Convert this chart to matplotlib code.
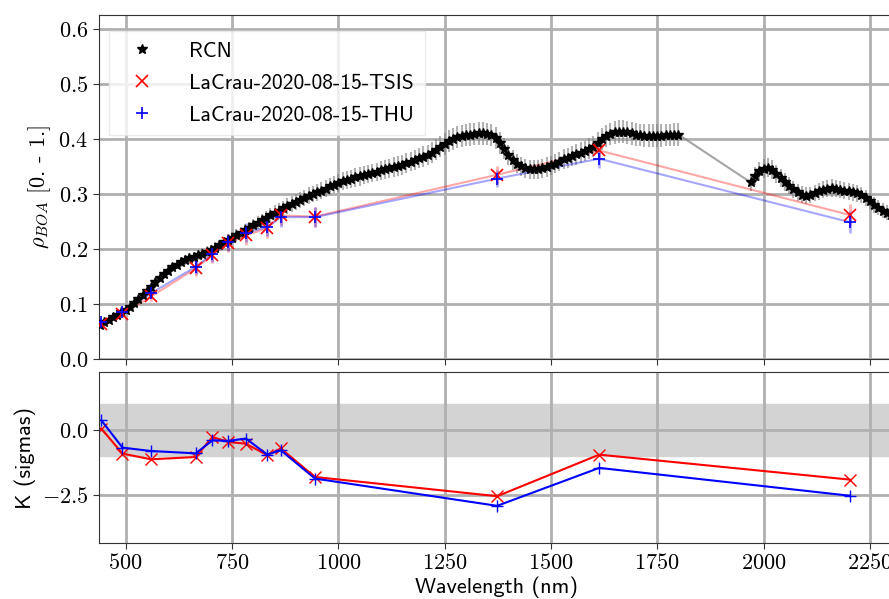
import numpy as np
import matplotlib
matplotlib.use('Agg')
import matplotlib.pyplot as plt
from matplotlib.ticker import MultipleLocator, FuncFormatter

plt.rcParams['mathtext.fontset'] = 'cm'

# Sentinel-2 band centres (nm)
bands = [442.7, 492.4, 559.8, 664.6, 704.1, 740.5, 782.8, 832.8, 864.7,
         945.1, 1373.5, 1613.7, 2202.4]

rho_tsis = [0.064, 0.082, 0.114, 0.165, 0.190, 0.211, 0.225, 0.238, 0.261,
            0.259, 0.335, 0.379, 0.262]
rho_thu = [0.067, 0.085, 0.120, 0.168, 0.191, 0.212, 0.230, 0.240, 0.258,
           0.258, 0.328, 0.364, 0.249]
unc_tsis = [0.006, 0.007, 0.009, 0.014, 0.015, 0.016, 0.017, 0.017, 0.018,
            0.018, 0.016, 0.017, 0.020]
unc_thu = [0.006, 0.007, 0.009, 0.014, 0.015, 0.016, 0.017, 0.017, 0.018,
           0.018, 0.016, 0.017, 0.020]

k_tsis = [0.05, -0.91, -1.13, -1.04, -0.27, -0.46, -0.53, -0.97, -0.71,
          -1.81, -2.55, -0.95, -1.91]
k_thu = [0.37, -0.68, -0.81, -0.90, -0.40, -0.42, -0.33, -0.95, -0.78,
         -1.87, -2.92, -1.46, -2.53]

# RadCalNet spectrum, 10 nm steps, two segments
rcn_wl_1 = np.arange(440, 1801, 10)
rcn_rho_1 = [0.063, 0.067, 0.071, 0.076, 0.080, 0.085, 0.089, 0.095, 0.102, 0.109,
             0.116, 0.124, 0.131, 0.140, 0.148, 0.155, 0.161, 0.167, 0.172, 0.176,
             0.180, 0.183, 0.186, 0.189, 0.192, 0.195, 0.198, 0.202, 0.207, 0.212,
             0.216, 0.220, 0.225, 0.229, 0.234, 0.238, 0.243, 0.248, 0.252, 0.257,
             0.261, 0.266, 0.270, 0.274, 0.278, 0.282, 0.286, 0.289, 0.293, 0.297,
             0.300, 0.303, 0.306, 0.310, 0.314, 0.317, 0.320, 0.323, 0.326, 0.328,
             0.330, 0.332, 0.334, 0.336, 0.338, 0.340, 0.343, 0.345, 0.347, 0.349,
             0.351, 0.353, 0.356, 0.359, 0.362, 0.365, 0.368, 0.371, 0.375, 0.380,
             0.386, 0.391, 0.396, 0.400, 0.403, 0.405, 0.407, 0.408, 0.409, 0.410,
             0.410, 0.409, 0.407, 0.402, 0.393, 0.382, 0.371, 0.362, 0.355, 0.350,
             0.347, 0.345, 0.345, 0.345, 0.347, 0.349, 0.352, 0.355, 0.359, 0.363,
             0.366, 0.369, 0.372, 0.375, 0.378, 0.382, 0.386, 0.393, 0.400, 0.405,
             0.409, 0.412, 0.413, 0.413, 0.412, 0.410, 0.408, 0.407, 0.406, 0.406,
             0.406, 0.406, 0.406, 0.407, 0.407, 0.408, 0.408]
rcn_wl_2 = np.arange(1970, 2301, 10)
rcn_rho_2 = [0.321, 0.333, 0.341, 0.346, 0.348, 0.344, 0.336, 0.329, 0.322, 0.315,
             0.309, 0.303, 0.299, 0.297, 0.298, 0.302, 0.305, 0.308, 0.310, 0.311,
             0.310, 0.308, 0.306, 0.305, 0.303, 0.301, 0.298, 0.293, 0.287, 0.280,
             0.275, 0.270, 0.266, 0.262]
rcn_unc_rel = 0.05

rcn_wl = np.concatenate([rcn_wl_1, rcn_wl_2])
rcn_rho = np.array(rcn_rho_1 + rcn_rho_2)

fig = plt.figure(figsize=(8.89, 5.99), dpi=100)
ax1 = fig.add_axes([0.1108, 0.4002, 0.8963, 0.5748])
ax2 = fig.add_axes([0.1108, 0.0935, 0.8963, 0.2850], sharex=ax1)

label_font = 'cmss10'
grid_kw = dict(color='#b0b0b0', linewidth=2)

# top panel
ax1.errorbar(rcn_wl, rcn_rho, yerr=rcn_rho * rcn_unc_rel, fmt='none',
             ecolor='gray', alpha=0.6, elinewidth=1.5, zorder=2)
ax1.plot(rcn_wl, rcn_rho, color='gray', alpha=0.7, lw=1.5, zorder=2)
ax1.plot(rcn_wl, rcn_rho, 'k*', ms=7, label='RCN', zorder=3)

ax1.errorbar(bands, rho_tsis, yerr=unc_tsis, fmt='none', ecolor='red',
             alpha=0.3, elinewidth=2, zorder=2)
ax1.plot(bands, rho_tsis, color='red', alpha=0.35, lw=1.5, zorder=2)
ax1.plot(bands, rho_tsis, 'x', color='red', ms=9, mew=1.2,
         label='LaCrau-2020-08-15-TSIS', zorder=4)

ax1.errorbar(bands, rho_thu, yerr=unc_thu, fmt='none', ecolor='blue',
             alpha=0.3, elinewidth=2, zorder=2)
ax1.plot(bands, rho_thu, color='blue', alpha=0.35, lw=1.5, zorder=2)
ax1.plot(bands, rho_thu, '+', color='blue', ms=9, mew=1.2,
         label='LaCrau-2020-08-15-THU', zorder=4)

ax1.set_ylim(0, 0.625)
ax1.yaxis.set_major_locator(MultipleLocator(0.1))
ax1.set_ylabel(r'$\rho_{BOA}$ [0. - 1.]', fontsize=16, family='cmr10')
ax1.grid(True, **grid_kw)
ax1.set_axisbelow(True)
ax1.tick_params(labelbottom=False)
leg = ax1.legend(loc='upper left', bbox_to_anchor=(0.0, 0.985),
                 prop={'family': label_font, 'size': 15.5}, framealpha=0.8,
                 edgecolor='0.9', fancybox=False, borderpad=0.5,
                 handletextpad=1.2, labelspacing=0.6)

# bottom panel
ax2.axhspan(-1, 1, color='#d3d3d3', zorder=0)
ax2.plot(bands, k_tsis, '-x', color='red', ms=9, mew=1.0, lw=1.5)
ax2.plot(bands, k_thu, '-+', color='blue', ms=9, mew=1.0, lw=1.5)
ax2.set_ylim(-4.35, 2.22)
ax2.yaxis.set_major_locator(MultipleLocator(2.5))
ax2.set_ylabel('K (sigmas)', fontsize=16, family=label_font)
ax2.set_xlabel('Wavelength (nm)', fontsize=16, family=label_font, labelpad=2)
ax2.grid(True, **grid_kw)
ax2.set_axisbelow(True)

ax1.set_xlim(436, 2310)
ax1.xaxis.set_major_locator(MultipleLocator(250))
ax2.xaxis.set_major_formatter(FuncFormatter(lambda v, p: r'$\mathrm{%d}$' % v))
for ax in (ax1, ax2):
    ax.yaxis.set_major_formatter(FuncFormatter(lambda v, p: r'$\mathrm{%.1f}$' % v))
    ax.tick_params(labelsize=16, color='0.2', length=4)
    for s in ax.spines.values():
        s.set_color('0.2')

fig.savefig('out.png', dpi=100)
